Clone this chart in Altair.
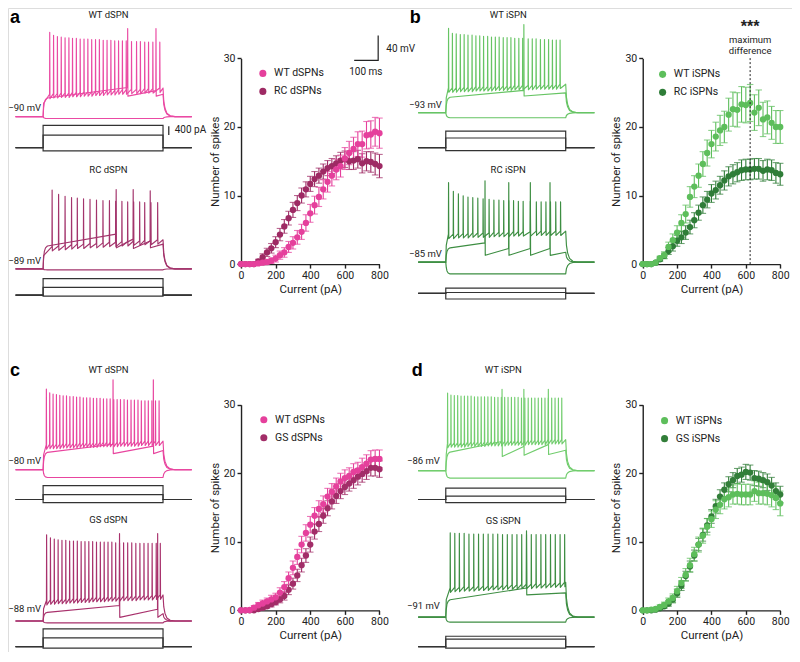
import altair as alt
import pandas as pd

FONT = "Roboto"
INK = "#222222"
W, H = 784, 644
SX, SY = 0.975, 0.97


def PX(x):
    return round(x * SX, 2)


def PY(y):
    return round(y * SY, 2)


# ---------------- F-I data (mean, SEM) ----------------
CURRENT = [0, 25, 50, 75, 100, 125, 150, 175, 200, 225, 250, 275, 300, 325, 350, 375, 400,
           425, 450, 475, 500, 525, 550, 575, 600, 625, 650, 675, 700, 725, 750, 775, 800]

A_WT = [0, 0, 0, 0, 0.1, 0.2, 0.3, 0.5, 0.8, 1.3, 1.7, 2.5, 3.1, 3.9, 4.7, 6.0, 7.4, 8.6, 9.8, 10.9,
        12.0, 12.9, 13.8, 14.3, 15.4, 16.2, 16.8, 17.5, 17.5, 18.8, 18.9, 19.3, 19.1]
A_WT_SEM = [0, 0, 0, 0, 0.2, 0.3, 0.3, 0.4, 0.5, 0.6, 0.7, 0.8, 0.9, 1.0, 1.1, 1.2, 1.3, 1.3, 1.4, 1.4,
            1.5, 1.5, 1.5, 1.6, 1.6, 1.7, 1.7, 1.8, 1.9, 2.0, 2.0, 2.1, 2.2]
A_RC = [0, 0, 0, 0, 0.4, 1.0, 1.7, 2.3, 3.2, 4.3, 5.5, 6.7, 7.9, 8.9, 10.0, 10.9, 11.7, 12.4, 12.9, 13.5,
        14.0, 14.3, 14.7, 15.1, 15.3, 15.0, 15.1, 15.3, 14.7, 15.0, 14.9, 14.6, 14.3]
A_RC_SEM = [0, 0, 0, 0, 0.3, 0.5, 0.6, 0.7, 0.8, 0.9, 1.0, 1.0, 1.1, 1.1, 1.1, 1.1, 1.1, 1.1, 1.1, 1.1,
            1.1, 1.1, 1.1, 1.2, 1.2, 1.2, 1.3, 1.3, 1.4, 1.4, 1.5, 1.6, 1.7]

B_WT = [0, 0, 0, 0.2, 0.85, 1.3, 2.5, 3.5, 4.6, 6.0, 7.3, 9.8, 11.3, 12.9, 14.6, 16.2, 17.5, 18.6, 19.5,
        20.0, 21.8, 22.6, 22.5, 23.3, 23.2, 23.5, 22.1, 22.8, 21.1, 21.4, 20.6, 20.0, 20.0]
B_WT_SEM = [0, 0, 0, 0.1, 0.3, 0.5, 0.7, 0.9, 1.0, 1.2, 1.3, 1.5, 1.6, 1.7, 1.8, 1.9, 2.0, 2.1, 2.2,
            2.3, 2.4, 2.5, 2.5, 2.6, 2.6, 2.7, 2.6, 2.6, 2.5, 2.4, 2.4, 2.4, 2.4]
B_RC = [0, 0, 0, 0.2, 0.7, 1.2, 1.9, 2.6, 3.4, 3.9, 4.6, 5.4, 6.4, 7.5, 8.6, 9.4, 10.3, 10.8, 11.5,
        12.2, 12.8, 13.1, 13.4, 13.7, 13.8, 13.8, 13.9, 13.9, 13.6, 13.8, 13.7, 13.3, 13.1]
B_RC_SEM = [0, 0, 0, 0.1, 0.3, 0.4, 0.5, 0.7, 0.8, 0.9, 1.0, 1.0, 1.1, 1.1, 1.2, 1.2, 1.3, 1.3, 1.3,
            1.4, 1.4, 1.4, 1.4, 1.5, 1.5, 1.5, 1.5, 1.5, 1.5, 1.5, 1.5, 1.5, 1.6]

C_WT = [0, 0, 0.05, 0.4, 0.75, 1.0, 1.3, 1.6, 1.9, 2.6, 3.4, 4.7, 6.2, 7.8, 9.6, 11.3, 12.5, 13.8, 14.8,
        15.5, 16.6, 17.3, 18.1, 18.8, 19.3, 19.6, 20.2, 20.4, 20.9, 21.4, 22.0, 22.1, 22.1]
C_WT_SEM = [0, 0, 0.1, 0.3, 0.4, 0.5, 0.5, 0.6, 0.6, 0.7, 0.8, 0.9, 1.0, 1.1, 1.2, 1.2, 1.2, 1.2, 1.2,
            1.2, 1.2, 1.2, 1.2, 1.2, 1.2, 1.2, 1.2, 1.2, 1.3, 1.3, 1.3, 1.3, 1.3]
C_GS = [0, 0, 0, 0, 0.2, 0.4, 0.6, 0.9, 1.2, 1.6, 2.1, 3.0, 3.9, 5.1, 6.6, 8.0, 9.6, 11.5, 12.6, 13.8,
        14.9, 15.9, 16.7, 17.4, 18.0, 18.5, 19.0, 19.5, 19.9, 20.3, 20.8, 20.8, 20.6]
C_GS_SEM = [0, 0, 0, 0, 0.2, 0.3, 0.3, 0.4, 0.4, 0.5, 0.6, 0.7, 0.8, 0.9, 1.0, 1.0, 1.1, 1.1, 1.1, 1.1,
            1.1, 1.1, 1.1, 1.1, 1.1, 1.1, 1.2, 1.2, 1.2, 1.2, 1.2, 1.2, 1.2]

D_WT = [0, 0, 0.1, 0.2, 0.5, 0.8, 1.3, 1.8, 2.8, 4.0, 5.2, 6.6, 8.2, 9.6, 10.9, 12.2, 13.3, 14.7, 15.4,
        16.2, 16.5, 16.9, 17.0, 16.9, 16.9, 16.9, 17.4, 17.1, 17.1, 17.0, 16.8, 16.4, 15.6]
D_WT_SEM = [0, 0, 0.1, 0.2, 0.3, 0.4, 0.5, 0.6, 0.7, 0.8, 0.9, 1.0, 1.0, 1.1, 1.1, 1.2, 1.2, 1.3, 1.3,
            1.4, 1.4, 1.4, 1.5, 1.5, 1.5, 1.5, 1.5, 1.6, 1.6, 1.6, 1.7, 1.7, 1.8]
D_GS = [0, 0, 0, 0.1, 0.3, 0.6, 1.0, 1.6, 2.5, 3.6, 5.0, 6.4, 8.0, 9.6, 11.0, 12.4, 13.7, 15.2, 16.6,
        17.6, 18.4, 19.0, 19.6, 19.8, 20.2, 20.1, 19.3, 19.2, 19.0, 18.7, 18.2, 17.4, 16.9]
D_GS_SEM = [0, 0, 0, 0.1, 0.2, 0.3, 0.4, 0.5, 0.6, 0.7, 0.7, 0.8, 0.8, 0.9, 0.9, 1.0, 1.0, 1.0, 1.0,
            1.0, 1.1, 1.1, 1.1, 1.1, 1.1, 1.1, 1.1, 1.1, 1.1, 1.2, 1.2, 1.2, 1.2]

MAX_DIFF_PA = [625]

WT_D_COLOR, RC_D_COLOR, GS_D_COLOR = "#E5409C", "#9E2A64", "#A22D68"
WT_I_COLOR, RC_I_COLOR, GS_I_COLOR = "#5DBE5B", "#2F7D38", "#327E39"

# ---------------- example traces (ms, mV above resting level) ----------------
TRACE_T0, TRACE_T1, STEP_END = -115, 620, 500
MS_PX, MV_PX, PA_PX = 0.246, 0.64, 9 / 400
RISE_T = [2, 5, 10, 18]
RISE_F = [0.45, 0.75, 0.92, 1.0]
DECAY_T = [3, 8, 16, 30, 50]
DECAY_F = [0.55, 0.3, 0.12, 0.03, 0.0]

A1_V0, A1_HYP = -90, -3
A1_STR_T = [27, 43, 59, 75, 91, 107, 122, 138, 154, 170, 186, 202, 218, 234, 250, 266, 282, 298, 314, 330, 346, 368, 389, 405, 423, 439, 457, 486]
A1_STR_PK = [136, 131, 129, 128, 127, 127, 126, 126, 125, 125, 125, 124, 124, 124, 123, 123, 123, 122, 122, 122, 122, 121, 121, 121, 120, 120, 120, 120]
A1_STR_TR = [36, 37, 37, 38, 38, 38, 39, 39, 39, 40, 40, 40, 41, 41, 41, 42, 42, 42, 43, 43, 43, 44, 44, 44, 45, 45, 45, 46]
A1_THR_T, A1_THR_PK, A1_THR_PRE, A1_THR_POST = [352, 470], [142, 142], [47, 42], [33, 33]
A1_THR_START, A1_THR_END = 30, 36
A1_STEPS = [-147, 578, 1022]

A2_V0, A2_HYP = -89, -1.5
A2_STR_T = [37, 64, 91, 118, 142, 168, 195, 222, 249, 276, 302, 328, 352, 377, 402, 423, 449, 477]
A2_STR_PK = [127, 120, 117, 115, 114, 113, 112, 111, 110, 110, 109, 109, 108, 108, 108, 107, 107, 107]
A2_STR_TR = [36, 37, 38, 39, 40, 40, 41, 41, 42, 43, 43, 44, 44, 45, 45, 46, 46, 47]
A2_THR_T, A2_THR_PK, A2_THR_PRE, A2_THR_POST = [304, 375, 446], [128, 128, 126], [56, 48, 45], [34, 33, 34]
A2_THR_START, A2_THR_END = 37, 40
A2_STEPS = [-44, 356, 756]

B1_V0, B1_HYP = -93, -8
B1_STR_T = [11, 27, 43, 60, 76, 92, 109, 125, 141, 157, 174, 190, 206, 222, 239, 255, 271, 287, 304, 320, 343, 360, 376, 394, 411, 428, 444, 460, 476]
B1_STR_PK = [136, 128, 127, 126, 126, 125, 125, 124, 124, 123, 123, 122, 122, 122, 121, 121, 121, 120, 120, 120, 119, 119, 119, 118, 118, 118, 117, 117, 117]
B1_STR_TR = [40, 40, 40, 41, 41, 41, 41, 42, 42, 42, 42, 42, 43, 43, 43, 43, 43, 44, 44, 44, 44, 44, 45, 45, 45, 45, 45, 45, 46]
B1_THR_T, B1_THR_PK, B1_THR_PRE, B1_THR_POST = [325], [142], [36], [27]
B1_THR_START, B1_THR_END = 25, 32
B1_STEPS = [-133, 444, 756]

B2_V0, B2_HYP = -85, -19
B2_STR_T = [11, 31, 52, 72, 92, 112, 133, 155, 180, 200, 221, 241, 262, 282, 302, 322, 352, 377, 397, 417, 436, 458, 478]
B2_STR_PK = [128, 114, 110, 107, 105, 104, 103, 102, 101, 100, 100, 99, 99, 99, 98, 98, 98, 97, 97, 97, 97, 97, 97]
B2_STR_TR = [45, 45, 46, 46, 46, 47, 47, 47, 47, 48, 48, 48, 48, 49, 49, 49, 49, 50, 50, 50, 50, 50, 50]
B2_THR_T, B2_THR_PK, B2_THR_PRE, B2_THR_POST = [163, 262, 352, 434], [131, 128, 128, 128], [31, 22, 22, 22], [11, 11, 11, 11]
B2_THR_START, B2_THR_END = 23, 16
B2_STEPS = [-253, 44, 249]

C1_V0, C1_HYP = -80, -12.5
C1_STR_T = [13, 27, 41, 55, 69, 83, 97, 111, 125, 139, 153, 167, 181, 195, 209, 223, 237, 251, 265, 279, 294, 308, 322, 337, 351, 366, 380, 395, 409, 424, 438, 453, 468, 483]
C1_STR_PK = [130, 124, 122, 121, 120, 119, 119, 118, 118, 117, 117, 116, 116, 116, 115, 115, 115, 114, 114, 114, 113, 113, 113, 113, 112, 112, 112, 112, 111, 111, 111, 111, 111, 111]
C1_STR_TR = [40, 41, 41, 41, 41, 42, 42, 42, 42, 42, 43, 43, 43, 43, 43, 43, 44, 44, 44, 44, 44, 44, 45, 45, 45, 45, 45, 45, 46, 46, 46, 46, 46, 46]
C1_THR_T, C1_THR_PK, C1_THR_PRE, C1_THR_POST = [291, 459], [145, 145], [41, 38], [26, 26]
C1_THR_START, C1_THR_END = 28, 31
C1_STEPS = [-147, 222, 640]

C2_V0, C2_HYP = -88, -3
C2_STR_T = [14, 30, 46, 62, 78, 94, 110, 126, 142, 158, 174, 190, 206, 222, 238, 254, 270, 286, 302, 318, 335, 352, 369, 386, 403, 420, 437, 454, 471, 488]
C2_STR_PK = [139, 134, 132, 131, 130, 130, 129, 129, 129, 128, 128, 128, 128, 127, 127, 127, 127, 127, 126, 126, 126, 126, 126, 125, 125, 125, 125, 125, 125, 125]
C2_STR_TR = [33, 34, 34, 35, 35, 35, 36, 36, 36, 37, 37, 37, 38, 38, 38, 38, 39, 39, 39, 39, 40, 40, 40, 40, 41, 41, 41, 41, 42, 42]
C2_THR_T, C2_THR_PK, C2_THR_PRE, C2_THR_POST = [318, 477], [141, 141], [25, 19], [6, 6]
C2_THR_START, C2_THR_END = 14, 12
C2_STEPS = [-75, 400, 812]

D1_V0, D1_HYP = -86, -12
D1_STR_T = [7, 21, 35, 49, 63, 77, 91, 105, 119, 133, 147, 161, 175, 189, 203, 217, 231, 245, 259, 273, 287, 301, 315, 329, 343, 357, 371, 385, 399, 413, 427, 441, 455, 469, 483]
D1_STR_PK = [125, 122, 121, 121, 120, 120, 120, 120, 119, 119, 119, 119, 119, 119, 118, 118, 118, 118, 118, 118, 118, 118, 117, 117, 117, 117, 117, 117, 117, 117, 117, 117, 117, 117, 117]
D1_STR_TR = [44, 45, 45, 45, 45, 45, 46, 46, 46, 46, 46, 46, 47, 47, 47, 47, 47, 47, 48, 48, 48, 48, 48, 48, 49, 49, 49, 49, 49, 49, 50, 50, 50, 50, 50]
D1_THR_T, D1_THR_PK, D1_THR_PRE, D1_THR_POST = [234, 325, 427], [131, 131, 131], [47, 39, 42], [23, 25, 26]
D1_THR_START, D1_THR_END = 30, 33
D1_STEPS = [-147, 151, 520]

D2_V0, D2_HYP = -91, -8
D2_STR_T = [18, 37, 56, 76, 96, 116, 136, 156, 176, 196, 216, 236, 256, 276, 296, 316, 336, 356, 376, 396, 416, 436, 456, 476, 495]
D2_STR_PK = [136, 135, 135, 135, 134, 134, 134, 134, 134, 134, 134, 133, 133, 133, 133, 133, 133, 133, 133, 133, 133, 133, 133, 133, 133]
D2_STR_TR = [47, 48, 48, 49, 49, 49, 50, 50, 50, 51, 51, 51, 52, 52, 52, 53, 53, 53, 54, 54, 54, 55, 55, 55, 56]
D2_THR_T, D2_THR_PK, D2_THR_PRE, D2_THR_POST = [336], [139], [47], [36]
D2_THR_START, D2_THR_END = 28, 39
D2_STEPS = [-75, 337, 471]

# scale bars: 100 ms x 40 mV (drawn in panel a's voltage scale), 400 pA
SCALEBAR_T = [1297, 1397, 1397]
SCALEBAR_MV = [90.6, 90.6, 130.6]
PA_BAR_T = [524]
PA_BAR = [578, 978]

# ---------------- text ----------------
LETTERS = ["a", "b", "c", "d"]
LETTER_X = [2, 412, 2, 414]
LETTER_Y = [15, 15, 379, 379]
TITLES = ["WT dSPN", "RC dSPN", "WT iSPN", "RC iSPN", "WT dSPN", "GS dSPN", "WT iSPN", "GS iSPN"]
TITLE_X = [103, 103, 513, 513, 103, 103, 508, 508]
TITLE_Y = [7, 167, 7, 167, 373, 528, 373, 529]
MV_LABELS = ["\u221290 mV", "\u221289 mV", "\u221293 mV", "\u221285 mV",
             "\u221280 mV", "\u221288 mV", "\u221286 mV", "\u221291 mV"]
MV_X = [34, 34, 445, 445, 34, 34, 443, 443]
MV_Y = [103, 261, 100, 254, 467, 620, 467, 617]
MISC_LABELS = ["40 mV", "100 ms", "400 pA"]
MISC_X = [388, 367, 171]
MISC_Y = [42, 66, 126]
MISC_ALIGN = ["left", "center", "left"]


# ---------------- helpers ----------------
def tscale(xs):
    return alt.Scale(domain=[TRACE_T0, TRACE_T1],
                     range=[PX(xs + TRACE_T0 * MS_PX), PX(xs + TRACE_T1 * MS_PX)], nice=False, zero=False)


def vscale(v0, yb):
    return alt.Scale(domain=[v0 - 60, v0 + 160],
                     range=[PY(yb + 60 * MV_PX), PY(yb - 160 * MV_PX)], nice=False, zero=False)


def iscale(yb):
    return alt.Scale(domain=[-1000, 1500],
                     range=[PY(yb + 1000 * PA_PX), PY(yb - 1500 * PA_PX)], nice=False, zero=False)


def decay(level):
    return [(STEP_END + dt, level * f) for dt, f in zip(DECAY_T, DECAY_F)] + [(TRACE_T1, 0)]


def vtrace_df(v0, hyp, st, spk, str_, tt, tpk, tpre, tpost, tstart, tend):
    rows = []

    def push(name, pts):
        for k, (t, dv) in enumerate(pts):
            rows.append({"trace": name, "k": k, "t": t, "v": v0 + dv})

    h = [(TRACE_T0, 0), (0, 0)] + [(t, hyp * f) for t, f in zip(RISE_T, RISE_F)] + [(STEP_END, hyp)] + decay(hyp)
    push("hyp", h)
    p = [(TRACE_T0, 0), (0, 0)] + [(t, tstart * f) for t, f in zip(RISE_T, RISE_F)]
    for t, pk, pre, post in zip(tt, tpk, tpre, tpost):
        p += [(t, pre), (t + 0.6, pk), (t + 1.6, post)]
    p += [(STEP_END, tend)] + decay(tend)
    push("thr", p)
    s = [(TRACE_T0, 0), (0, 0), (min(2, st[0] * 0.4), str_[0] * 0.6)]
    for t, pk, tr in zip(st, spk, str_):
        s += [(t, tr), (t + 0.6, pk), (t + 1.6, tr - 7)]
    s += [(STEP_END, str_[-1])] + decay(str_[-1])
    push("str", s)
    return pd.DataFrame(rows)


def itrace_df(levels):
    rows = []
    for j, lv in enumerate(levels):
        pts = [(TRACE_T0, 0), (0, 0), (0, lv), (STEP_END, lv), (STEP_END, 0), (TRACE_T1, 0)]
        for k, (t, i) in enumerate(pts):
            rows.append({"trace": j, "k": k, "t": t, "i": i})
    return pd.DataFrame(rows)


def trace_layers(vdf, steps, xs, v0, yb, ib, color):
    v = alt.Chart(vdf).mark_line(strokeWidth=1.15, color=color, strokeJoin="round").encode(
        x=alt.X("t:Q", scale=tscale(xs), axis=None),
        y=alt.Y("v:Q", scale=vscale(v0, yb), axis=None),
        detail="trace:N", order="k:Q")
    c = alt.Chart(itrace_df(steps)).mark_line(strokeWidth=1.2, color="#333333").encode(
        x=alt.X("t:Q", scale=tscale(xs), axis=None),
        y=alt.Y("i:Q", scale=iscale(ib), axis=None),
        detail="trace:N", order="k:Q")
    return [v, c]


def axis_x(y0):
    return alt.Axis(orient="bottom", offset=PY(y0) - H, values=[0, 200, 400, 600, 800], title="Current (pA)",
                    grid=False, domainColor=INK, domainWidth=1.4, tickColor=INK, tickWidth=1.4, tickSize=4,
                    labelFont=FONT, labelFontSize=10.5, labelColor=INK, labelPadding=2, labelFlush=False,
                    titleFont=FONT, titleFontSize=11.5, titleFontWeight="normal", titleColor=INK, titlePadding=3)


def axis_y(x0):
    return alt.Axis(orient="left", offset=-PX(x0), values=[0, 10, 20, 30], title="Number of spikes",
                    grid=False, domainColor=INK, domainWidth=1.4, tickColor=INK, tickWidth=1.4, tickSize=4,
                    labelFont=FONT, labelFontSize=10.5, labelColor=INK, labelPadding=2,
                    titleFont=FONT, titleFontSize=11.5, titleFontWeight="normal", titleColor=INK, titlePadding=3)


def scatter_layers(wt, wt_sem, mut, mut_sem, names, colors, box, leg_xy, extra=None):
    x0, x1, y0, y1 = box
    rows = []
    for name, vals, sems in [(names[1], mut, mut_sem), (names[0], wt, wt_sem)]:
        for cur, m, s in zip(CURRENT, vals, sems):
            rows.append({"I": cur, "m": m, "lo": m - s, "hi": m + s, "g": name})
    df = pd.DataFrame(rows)

    def xs():
        return alt.Scale(domain=[0, 800], range=[PX(x0), PX(x1)], nice=False, zero=False)

    def ys():
        return alt.Scale(domain=[0, 30], range=[PY(y0), PY(y1)], nice=False, zero=False)

    def cs():
        return alt.Scale(domain=list(names), range=list(colors))

    legend = alt.Legend(orient="none", legendX=PX(leg_xy[0]), legendY=PY(leg_xy[1]), title=None,
                        symbolType="circle", symbolSize=50, symbolStrokeWidth=0, symbolOpacity=1,
                        labelFont=FONT, labelFontSize=10.5, labelColor=INK, labelOffset=6,
                        rowPadding=7, padding=0)
    err = alt.Chart(df).mark_errorbar(ticks=True, size=6.5, thickness=1.1).encode(
        x=alt.X("I:Q", scale=xs(), axis=None),
        y=alt.Y("lo:Q", scale=ys(), axis=None), y2="hi:Q",
        color=alt.Color("g:N", scale=cs(), legend=None))
    pts = alt.Chart(df).mark_circle(size=40, opacity=1).encode(
        x=alt.X("I:Q", scale=xs(), axis=axis_x(y0)),
        y=alt.Y("m:Q", scale=ys(), axis=axis_y(x0)),
        color=alt.Color("g:N", scale=cs(), legend=legend))
    out = [err, pts]
    if extra is not None:
        out += extra(xs, ys)
    return out


def max_diff_marks(xs, ys):
    md = pd.DataFrame({"I": MAX_DIFF_PA, "lo": [0], "hi": [30.3]})
    rule = alt.Chart(md).mark_rule(strokeDash=[2, 2], strokeWidth=1, color=INK).encode(
        x=alt.X("I:Q", scale=xs(), axis=None), y=alt.Y("lo:Q", scale=ys(), axis=None), y2="hi:Q")
    ann = pd.DataFrame({"I": MAX_DIFF_PA * 2, "v": [32.75, 31.15], "label": ["maximum", "difference"]})
    txt = alt.Chart(ann).mark_text(font=FONT, fontSize=9.5, color=INK, baseline="middle").encode(
        x=alt.X("I:Q", scale=xs(), axis=None), y=alt.Y("v:Q", scale=ys(), axis=None), text="label:N")
    star = pd.DataFrame({"I": MAX_DIFF_PA, "v": [33.9], "label": ["***"]})
    st = alt.Chart(star).mark_text(font="Liberation Sans", fontSize=16, fontWeight="bold", color=INK,
                                   baseline="alphabetic").encode(
        x=alt.X("I:Q", scale=xs(), axis=None), y=alt.Y("v:Q", scale=ys(), axis=None), text="label:N")
    return [rule, txt, st]


def canvas_text(df, **mark):
    cx = alt.Scale(domain=[0, 800], range=[0, PX(800)], nice=False, zero=False)
    cy = alt.Scale(domain=[0, 662], range=[0, PY(662)], nice=False, zero=False)
    return alt.Chart(df).mark_text(**mark).encode(
        x=alt.X("x:Q", scale=cx, axis=None),
        y=alt.Y("y:Q", scale=cy, axis=None),
        text="label:N")


# ---------------- build ----------------
layers = []
layers += trace_layers(vtrace_df(A1_V0, A1_HYP, A1_STR_T, A1_STR_PK, A1_STR_TR, A1_THR_T, A1_THR_PK,
                                 A1_THR_PRE, A1_THR_POST, A1_THR_START, A1_THR_END),
                       A1_STEPS, 36, A1_V0, 112, 144, "#EA4AA3")
layers += trace_layers(vtrace_df(A2_V0, A2_HYP, A2_STR_T, A2_STR_PK, A2_STR_TR, A2_THR_T, A2_THR_PK,
                                 A2_THR_PRE, A2_THR_POST, A2_THR_START, A2_THR_END),
                       A2_STEPS, 36, A2_V0, 269, 296, "#A3346C")
layers += trace_layers(vtrace_df(B1_V0, B1_HYP, B1_STR_T, B1_STR_PK, B1_STR_TR, B1_THR_T, B1_THR_PK,
                                 B1_THR_PRE, B1_THR_POST, B1_THR_START, B1_THR_END),
                       B1_STEPS, 449, B1_V0, 108, 144, "#66C463")
layers += trace_layers(vtrace_df(B2_V0, B2_HYP, B2_STR_T, B2_STR_PK, B2_STR_TR, B2_THR_T, B2_THR_PK,
                                 B2_THR_PRE, B2_THR_POST, B2_THR_START, B2_THR_END),
                       B2_STEPS, 449, B2_V0, 262, 294.3, "#3D8E42")
layers += trace_layers(vtrace_df(C1_V0, C1_HYP, C1_STR_T, C1_STR_PK, C1_STR_TR, C1_THR_T, C1_THR_PK,
                                 C1_THR_PRE, C1_THR_POST, C1_THR_START, C1_THR_END),
                       C1_STEPS, 36, C1_V0, 476, 506.7, "#E8459F")
layers += trace_layers(vtrace_df(C2_V0, C2_HYP, C2_STR_T, C2_STR_PK, C2_STR_TR, C2_THR_T, C2_THR_PK,
                                 C2_THR_PRE, C2_THR_POST, C2_THR_START, C2_THR_END),
                       C2_STEPS, 36, C2_V0, 632, 658.3, "#A8316C")
layers += trace_layers(vtrace_df(D1_V0, D1_HYP, D1_STR_T, D1_STR_PK, D1_STR_TR, D1_THR_T, D1_THR_PK,
                                 D1_THR_PRE, D1_THR_POST, D1_THR_START, D1_THR_END),
                       D1_STEPS, 449, D1_V0, 477, 506.7, "#72CD6E")
layers += trace_layers(vtrace_df(D2_V0, D2_HYP, D2_STR_T, D2_STR_PK, D2_STR_TR, D2_THR_T, D2_THR_PK,
                                 D2_THR_PRE, D2_THR_POST, D2_THR_START, D2_THR_END),
                       D2_STEPS, 449, D2_V0, 628, 658.3, "#3E8E43")

# scale bars
sb = pd.DataFrame({"t": SCALEBAR_T, "v": [A1_V0 + d for d in SCALEBAR_MV], "k": [0, 1, 2]})
layers.append(alt.Chart(sb).mark_line(strokeWidth=1.2, color=INK).encode(
    x=alt.X("t:Q", scale=tscale(36), axis=None),
    y=alt.Y("v:Q", scale=vscale(A1_V0, 112), axis=None), order="k:Q"))
pb = pd.DataFrame({"t": PA_BAR_T, "i0": [PA_BAR[0]], "i1": [PA_BAR[1]]})
layers.append(alt.Chart(pb).mark_rule(strokeWidth=1.2, color=INK).encode(
    x=alt.X("t:Q", scale=tscale(36), axis=None),
    y=alt.Y("i0:Q", scale=iscale(144), axis=None), y2="i1:Q"))

# F-I plots
layers += scatter_layers(A_WT, A_WT_SEM, A_RC, A_RC_SEM, ["WT dSPNs", "RC dSPNs"],
                         [WT_D_COLOR, RC_D_COLOR], (239, 381, 264, 52), (256, 62))
layers += scatter_layers(B_WT, B_WT_SEM, B_RC, B_RC_SEM, ["WT iSPNs", "RC iSPNs"],
                         [WT_I_COLOR, RC_I_COLOR], (651, 792, 264, 52), (666, 63), extra=max_diff_marks)
layers += scatter_layers(C_WT, C_WT_SEM, C_GS, C_GS_SEM, ["WT dSPNs", "GS dSPNs"],
                         [WT_D_COLOR, GS_D_COLOR], (239, 381, 621, 409), (257, 419))
layers += scatter_layers(D_WT, D_WT_SEM, D_GS, D_GS_SEM, ["WT iSPNs", "GS iSPNs"],
                         [WT_I_COLOR, GS_I_COLOR], (651, 792, 621, 409), (668, 420))

# text
layers.append(canvas_text(pd.DataFrame({"x": LETTER_X, "y": LETTER_Y, "label": LETTERS}),
                          font="Liberation Sans", fontSize=18, fontWeight="bold", color="#000000",
                          align="left", baseline="alphabetic"))
layers.append(canvas_text(pd.DataFrame({"x": TITLE_X, "y": TITLE_Y, "label": TITLES}),
                          font=FONT, fontSize=9.5, color=INK, align="center", baseline="middle"))
layers.append(canvas_text(pd.DataFrame({"x": MV_X, "y": MV_Y, "label": MV_LABELS}),
                          font=FONT, fontSize=9.5, color=INK, align="right", baseline="middle"))
for lab, x, y, al in zip(MISC_LABELS, MISC_X, MISC_Y, MISC_ALIGN):
    layers.append(canvas_text(pd.DataFrame({"x": [x], "y": [y], "label": [lab]}),
                              font=FONT, fontSize=10, color=INK, align=al, baseline="middle"))

chart = alt.layer(*layers).resolve_scale(
    x="independent", y="independent", color="independent"
).properties(width=W, height=H, padding=0, autosize=alt.AutoSizeParams(type="none"))
chart = chart.configure_view(stroke=None).configure(font=FONT)

chart.save("out.html", embed_options={"renderer": "svg", "actions": False})
